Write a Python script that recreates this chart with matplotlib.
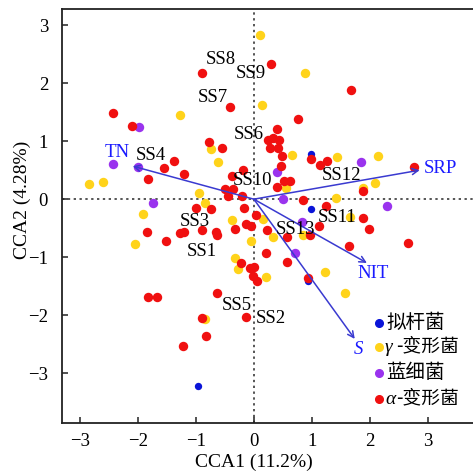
import matplotlib
matplotlib.use("Agg")
import matplotlib.pyplot as plt

plt.rcParams['font.family'] = ['Liberation Serif', 'Noto Sans CJK SC']
plt.rcParams['axes.unicode_minus'] = True

# ---- data (CCA scores) ----
red_x = [-0.90, 0.29, -0.41, 1.67, 0.76, -2.43, -2.10, -0.78, -0.55, -1.38, -1.55, -1.21, -1.83,
         -0.19, -0.38, -0.50, -0.36, -0.45, -0.21, 0.40, 0.24, 0.33, 0.43, 0.28, 0.41, 0.48, 0.98,
         1.14, 1.26, 2.76, 0.47, 0.52, 0.62, 0.40, 0.84, 1.24, 1.88, -1.21, -1.00, -0.74, -0.17,
         0.03, -0.14, -0.05, -0.33, 0.22, -1.84, -1.28, -0.90, -0.66, -0.64, -1.52, 0.21, -0.22,
         -0.07, 0.00, -0.02, 0.05, -0.64, -1.83, -1.67, -0.90, -0.14, -0.83, -1.22, 0.57, 0.57,
         0.97, 1.12, 1.64, 1.88, 1.98, 2.66, 0.93]
red_y = [2.17, 2.33, 1.59, 1.88, 1.38, 1.48, 1.26, 0.98, 0.88, 0.66, 0.53, 0.43, 0.34,
         0.50, 0.40, 0.17, 0.17, 0.05, 0.05, 1.21, 1.02, 1.05, 1.02, 0.88, 0.88, 0.74, 0.69,
         0.59, 0.66, 0.55, 0.57, 0.31, 0.31, 0.21, -0.02, -0.12, 0.14, -0.57, -0.16, -0.17, -0.16,
         -0.28, -0.43, -0.47, -0.52, -0.53, -0.57, -0.59, -0.53, -0.57, -0.62, -0.72, -0.93, -1.10,
         -1.19, -1.17, -1.33, -1.41, -1.62, -1.69, -1.69, -2.05, -2.03, -2.36, -2.53, -1.09, -0.66,
         -0.62, -0.47, -0.81, -0.33, -0.52, -0.76, -1.36]

yellow_x = [0.10, 0.14, -1.28, 0.88, -0.74, -0.62, -2.84, -2.60, -0.95, -0.84, 0.66, 1.43, 2.14,
            2.09, 1.88, 1.41, 0.55, -1.91, -2.05, -0.38, 0.16, -0.05, -0.33, -0.28, 0.21, 0.33,
            0.84, 1.66, 1.22, 1.57, -0.84]
yellow_y = [2.83, 1.62, 1.45, 2.17, 0.86, 0.64, 0.26, 0.29, 0.10, -0.07, 0.76, 0.72, 0.74,
            0.28, 0.19, 0.02, 0.19, -0.26, -0.78, -0.36, -0.34, -0.72, -1.02, -1.21, -1.34, -0.66,
            -0.62, -0.31, -1.26, -1.62, -2.07]

purple_x = [-1.98, -2.43, -2.00, -1.74, 1.84, 0.40, 0.50, 2.29, 0.83, 0.71]
purple_y = [1.24, 0.60, 0.55, -0.07, 0.64, 0.47, 0.00, -0.12, -0.40, -0.93]

blue_x = [0.98, 0.98, 0.93, -0.97]
blue_y = [0.78, -0.17, -1.41, -3.22]

env_names = ['TN', 'SRP', 'NIT', 'S']
env_x = [-2.09, 2.86, 1.95, 1.74]
env_y = [0.57, 0.50, -1.10, -2.41]

site_names = ['SS1', 'SS2', 'SS3', 'SS4', 'SS5', 'SS6', 'SS7', 'SS8', 'SS9', 'SS10', 'SS11', 'SS12', 'SS13']
site_x = [-0.90, 0.29, -1.02, -1.78, -0.29, -0.09, -0.71, -0.57, -0.05, -0.02, 1.43, 1.52, 0.71]
site_y = [-0.91, -2.05, -0.38, 0.76, -1.83, 1.12, 1.76, 2.41, 2.17, 0.33, -0.31, 0.41, -0.52]

legend_greek = ['', 'γ', '', 'α']
legend_names = ['拟杆菌', '-变形菌', '蓝细菌', '-变形菌']

xlabel = 'CCA1 (11.2%)'
ylabel = 'CCA2 (4.28%)'

# ---- figure ----
W = 473
fig = plt.figure(figsize=(4.73, 4.73), dpi=100)
ax = fig.add_axes([62 / W, 1 - 423 / W, (W - 62) / W, (423 - 9) / W])
ax.set_xlim(-3.31, 3.78)
ax.set_ylim(-3.86, 3.28)

RED = '#f01010'
YEL = '#ffd31a'
PUR = '#9a33ee'
BLU = '#0a14d8'

ax.axhline(0, color='#555555', ls=(0, (1.2, 1.8)), lw=1.4, zorder=1)
ax.axvline(0, color='#555555', ls=(0, (1.2, 1.8)), lw=1.4, zorder=1)

ax.scatter(yellow_x, yellow_y, s=46, color=YEL, lw=0, zorder=2)
ax.scatter(purple_x, purple_y, s=46, color=PUR, lw=0, zorder=2)
ax.scatter(blue_x, blue_y, s=28, color=BLU, lw=0, zorder=2)
ax.scatter(red_x, red_y, s=46, color=RED, lw=0, zorder=3)

ARC = '#3a3ad0'
for name, x, y in zip(env_names, env_x, env_y):
    ax.annotate('', xy=(x, y), xytext=(0, 0),
                arrowprops=dict(arrowstyle='->', color=ARC, lw=1.1,
                                shrinkA=0, shrinkB=0, mutation_scale=11),
                zorder=4)

TXT = '#1a1aff'
ax.text(-2.36, 0.81, 'TN', color=TXT, fontsize=13.5, ha='center', va='center', zorder=5)
ax.text(2.93, 0.53, 'SRP', color=TXT, fontsize=13.5, ha='left', va='center', zorder=5)
ax.text(2.05, -1.29, 'NIT', color=TXT, fontsize=13.5, ha='center', va='center', zorder=5)
ax.text(1.81, -2.59, 'S', color=TXT, fontsize=13.5, ha='center', va='center',
        style='italic', zorder=5)

for name, x, y in zip(site_names, site_x, site_y):
    ax.text(x, y, name, fontsize=13.5, ha='center', va='center', color='black', zorder=5)

# legend drawn manually
leg_cols = [BLU, YEL, PUR, RED]
leg_y = [323, 347, 373, 399]
for col, py, g, nm in zip(leg_cols, leg_y, legend_greek, legend_names):
    fig.add_artist(matplotlib.lines.Line2D([379 / W], [1 - py / W], marker='o', ms=5.5,
                                           color=col, lw=0, transform=fig.transFigure))
    if g:
        fig.text(385 / W, 1 - py / W, g, fontsize=14, style='italic',
                 family='Liberation Serif', ha='left', va='center')
        fig.text(396 / W, 1 - (py - 1) / W, nm, fontsize=13.5, family='Noto Sans CJK SC',
                 ha='left', va='center')
    else:
        fig.text(386 / W, 1 - (py - 1) / W, nm, fontsize=14, family='Noto Sans CJK SC',
                 ha='left', va='center')

for s in ['top', 'bottom', 'left']:
    ax.spines[s].set_linewidth(1.3)
    ax.spines[s].set_color('#222222')
ax.spines['right'].set_visible(False)

ax.set_xticks([-3, -2, -1, 0, 1, 2, 3])
ax.set_yticks([-3, -2, -1, 0, 1, 2, 3])
ax.tick_params(axis='both', direction='in', length=4, width=1.1, labelsize=13.5, color='#222222')
ax.tick_params(axis='x', pad=7)
ax.tick_params(axis='y', pad=10)

fig.text(254 / W, 1 - 462 / W, xlabel, fontsize=14, ha='center', va='center')
fig.text(22 / W, 1 - 200 / W, ylabel, fontsize=14, ha='center', va='center', rotation=90)

fig.savefig('out.png', dpi=100)
